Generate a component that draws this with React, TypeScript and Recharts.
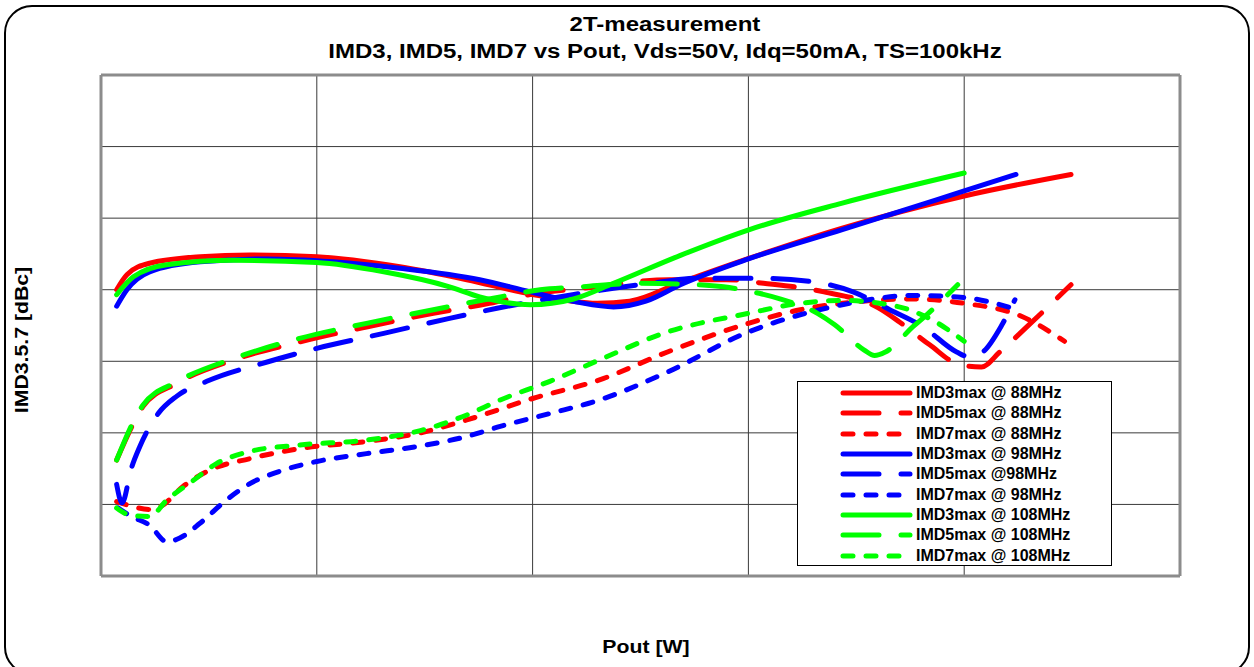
import { LineChart, Line, XAxis, YAxis, ReferenceLine } from "recharts";

type Pt = [number, number];

// Pout grid (no labels printed on the original), IMD in dBc
const X_TICKS = [0, 20, 40, 60, 80, 100];
const Y_TICKS = [-70, -60, -50, -40, -30, -20, -10, 0];

const imd3_88: Pt[] = [
  [1.45, -30.0], [2.4, -27.9], [4.5, -26.3], [9.2, -25.4], [13.8, -25.15], [20, -25.4],
  [27.7, -26.8], [33.9, -28.6], [39.8, -30.6], [46, -31.9], [49, -31.6], [53.7, -29.0],
  [60.1, -25.6], [68.7, -21.4], [80, -16.9], [89.9, -13.9],
];
const imd5_88: Pt[] = [
  [1.45, -53.8], [3, -48.7], [3.9, -46.3], [7, -43.1], [12.3, -39.8], [18.4, -37.3],
  [24.6, -35.2], [30.8, -33.3], [36, -31.9], [40.4, -30.5], [44.7, -29.8], [52.7, -28.6],
  [58, -28.6], [61.4, -29.1], [67, -30.3], [72, -32.5], [74, -34.5], [76.8, -37.7],
  [79.6, -40.5], [81.6, -40.8], [83.3, -38.7], [85.8, -35.2], [89.9, -29.3],
];
const imd7_88: Pt[] = [
  [1.45, -59.6], [2.5, -60.1], [4.5, -60.7], [5.5, -60.3], [7.6, -57.5], [10.1, -55.2],
  [13.8, -53.6], [18.4, -52.2], [24.6, -51.2], [29.3, -50.1], [33.9, -48.2], [40, -45.2],
  [46.2, -42.6], [52.5, -38.7], [60, -34.7], [64.8, -32.8], [68.7, -31.9], [75.3, -31.3],
  [80, -31.9], [85.3, -33.7], [89.3, -37.2],
];
const imd3_98: Pt[] = [
  [1.45, -32.3], [2.4, -30], [4.5, -27.5], [9.2, -26.1], [15.4, -25.7], [21.5, -26.1],
  [27.7, -27.0], [35.1, -28.6], [39.8, -30.3], [44, -31.7], [47.5, -32.4], [50.5, -31.6],
  [53.7, -29.3], [60, -25.7], [68.7, -21.6], [80, -16.2], [84.8, -13.9],
];
const imd5_98: Pt[] = [
  [1.45, -57.2], [1.95, -59.8], [2.8, -55], [3.6, -51.9], [5.3, -47.3], [7, -44.9],
  [9.8, -42.8], [15.4, -40.1], [20, -38.2], [26.2, -36.1], [32.3, -34.0], [36.7, -32.6],
  [43.7, -30.7], [47.5, -29.8], [52, -28.9], [55.2, -28.4], [60.8, -28.4], [66, -28.9],
  [69.7, -30.3], [73.1, -32.8], [76.2, -35.2], [79.3, -38.7], [80.5, -39.4], [81.8, -38.6],
  [83.5, -34.9], [84.7, -31.4],
];
const imd7_98: Pt[] = [
  [1.6, -60.5], [2.7, -61.6], [4.5, -62.9], [6.1, -65.2], [7.3, -64.7], [9.2, -62.6],
  [11.6, -59.4], [13.8, -57.1], [16.9, -55.2], [20, -54.0], [24.6, -52.9], [29.3, -51.9],
  [33.9, -50.5], [37, -49.1], [41.6, -47.3], [46.2, -45.4], [52.5, -41.5], [60, -35.9],
  [64.8, -33.5], [68.7, -32.1], [75.3, -30.8], [80, -31.1], [84.5, -32.6],
];
const imd3_108: Pt[] = [
  [1.45, -30.7], [3, -28.2], [6.1, -26.5], [12.3, -25.9], [20, -26.2], [26.2, -27.5],
  [32.3, -29.6], [35.1, -31.0], [39.8, -32.1], [43.8, -31.3], [47.5, -29.1], [53.7, -25.2],
  [60.1, -21.6], [68.7, -17.9], [80, -13.7],
];
const imd5_108: Pt[] = [
  [1.45, -53.8], [3.9, -46.1], [7, -42.9], [12.3, -39.6], [18.4, -36.8], [24.6, -34.7],
  [30.8, -32.8], [37, -31.0], [40.7, -30.0], [44.4, -29.6], [50, -29.1], [55.2, -29.3],
  [57.7, -29.6], [61, -30.5], [63, -31.3], [66.4, -33.3], [68, -34.9], [70.7, -38.4],
  [71.7, -39.2], [72.7, -38.7], [75.3, -35.1], [76.6, -33.4], [79.4, -29.3],
];
const imd7_108: Pt[] = [
  [1.45, -60.5], [2.7, -61.5], [4.5, -61.7], [6.1, -59.4], [8.6, -56.6], [10.7, -54.3],
  [13.8, -52.6], [18.4, -51.7], [24.6, -51.0], [29.3, -49.8], [33.9, -47.5], [37, -45.4],
  [41.6, -42.8], [46.2, -39.8], [52.5, -35.9], [60, -33.3], [64.8, -31.9], [68.7, -31.5],
  [73.7, -32.3], [77, -34.2], [80, -37.2],
];

const RED = "#ff0000";
const BLUE = "#0000ff";
const GREEN = "#00ff00";
const SOLID = undefined;
const LONG = "36 22";
const SHORT = "10 13";

const SERIES = [
  { name: "IMD3max @ 88MHz", color: RED, dash: SOLID, pts: imd3_88 },
  { name: "IMD5max @ 88MHz", color: RED, dash: LONG, pts: imd5_88 },
  { name: "IMD7max @ 88MHz", color: RED, dash: SHORT, pts: imd7_88 },
  { name: "IMD3max @ 98MHz", color: BLUE, dash: SOLID, pts: imd3_98 },
  { name: "IMD5max @98MHz", color: BLUE, dash: LONG, pts: imd5_98 },
  { name: "IMD7max @ 98MHz", color: BLUE, dash: SHORT, pts: imd7_98 },
  { name: "IMD3max @ 108MHz", color: GREEN, dash: SOLID, pts: imd3_108 },
  { name: "IMD5max @ 108MHz", color: GREEN, dash: LONG, pts: imd5_108 },
  { name: "IMD7max @ 108MHz", color: GREEN, dash: SHORT, pts: imd7_108 },
];

const FONT = "'Liberation Sans', Arial, sans-serif";
const BORDER = "#8c8c8c";
const GRID = "#3a3a3a";

function LegendBox() {
  return (
    <div
      style={{
        position: "absolute",
        left: 797,
        top: 381,
        width: 315,
        height: 185,
        border: "1px solid #000",
        background: "#fff",
        paddingTop: 1,
        boxSizing: "border-box",
      }}
    >
      {SERIES.map((s) => (
        <div key={s.name} style={{ display: "flex", alignItems: "center", height: 20.3 }}>
          <svg width={118} height={10} style={{ flex: "none" }}>
            <line
              x1={45}
              x2={112}
              y1={5}
              y2={5}
              stroke={s.color}
              strokeWidth={5}
              strokeLinecap="round"
              strokeDasharray={s.dash}
            />
          </svg>
          <span style={{ fontSize: 16, fontWeight: 700, whiteSpace: "nowrap" }}>{s.name}</span>
        </div>
      ))}
    </div>
  );
}

export default function App() {
  return (
    <div
      style={{
        position: "absolute",
        left: 0,
        top: 0,
        width: 1254,
        height: 667,
        overflow: "hidden",
        fontFamily: FONT,
        background: "#fff",
      }}
    >
      <div
        style={{
          position: "absolute",
          left: 4,
          top: 5,
          width: 1246,
          height: 670,
          border: "2px solid #000",
          borderRadius: 28,
          boxSizing: "border-box",
        }}
      />
      <div
        style={{
          position: "absolute",
          left: 165,
          top: 11,
          width: 1000,
          textAlign: "center",
          fontSize: 20,
          fontWeight: 700,
          lineHeight: "27px",
          transform: "scaleX(1.2)",
        }}
      >
        <div>2T-measurement</div>
        <div>IMD3, IMD5, IMD7 vs Pout, Vds=50V, Idq=50mA, TS=100kHz</div>
      </div>
      <div
        style={{
          position: "absolute",
          left: 22,
          top: 340,
          transform: "translate(-50%, -50%) rotate(-90deg) scaleX(1.18)",
          fontSize: 18,
          fontWeight: 700,
          whiteSpace: "nowrap",
        }}
      >
        IMD3.5.7 [dBc]
      </div>
      <div
        style={{
          position: "absolute",
          left: 646,
          top: 647,
          transform: "translate(-50%, -50%) scaleX(1.18)",
          fontSize: 18,
          fontWeight: 700,
          whiteSpace: "nowrap",
        }}
      >
        Pout [W]
      </div>
      <div style={{ position: "absolute", left: 0, top: 0 }}>
        <LineChart width={1254} height={667} margin={{ top: 75, left: 101, right: 74, bottom: 91 }}>
          <XAxis
            dataKey="p"
            type="number"
            domain={[0, 100]}
            ticks={X_TICKS}
            tick={false}
            tickLine={false}
            height={0}
            axisLine={false}
            allowDataOverflow
          />
          <YAxis
            type="number"
            domain={[-70, 0]}
            ticks={Y_TICKS}
            tick={false}
            tickLine={false}
            width={0}
            axisLine={false}
            allowDataOverflow
          />
          {X_TICKS.map((x) => (
            <ReferenceLine key={`x${x}`} x={x} stroke={GRID} strokeWidth={1} />
          ))}
          {Y_TICKS.map((y) => (
            <ReferenceLine key={`y${y}`} y={y} stroke={GRID} strokeWidth={1} />
          ))}
          <ReferenceLine x={0} stroke={BORDER} strokeWidth={3} />
          <ReferenceLine x={100} stroke={BORDER} strokeWidth={3} />
          <ReferenceLine y={0} stroke={BORDER} strokeWidth={3} />
          <ReferenceLine y={-70} stroke={BORDER} strokeWidth={3} />
          {SERIES.map((s) => (
            <Line
              key={s.name}
              data={s.pts.map(([p, v]) => ({ p, v }))}
              dataKey="v"
              name={s.name}
              type="monotone"
              stroke={s.color}
              strokeWidth={5}
              strokeDasharray={s.dash}
              strokeLinecap="round"
              dot={false}
              activeDot={false}
              isAnimationActive={false}
            />
          ))}
        </LineChart>
      </div>
      <LegendBox />
    </div>
  );
}
